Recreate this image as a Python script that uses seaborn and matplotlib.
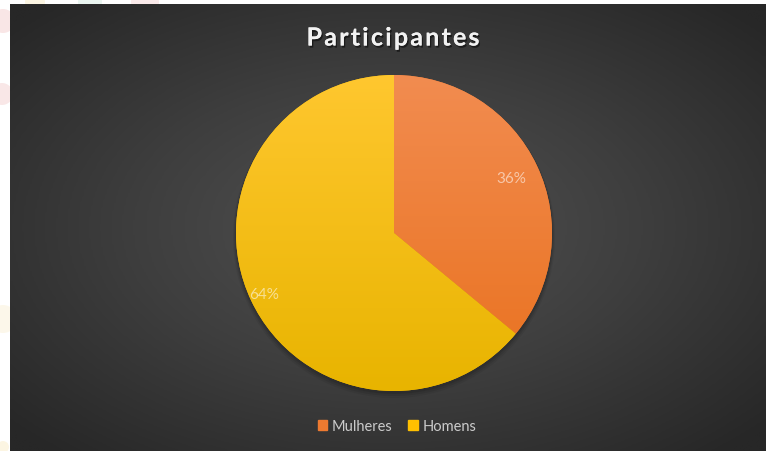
import numpy as np
import matplotlib
matplotlib.use("Agg")
import matplotlib.pyplot as plt
import matplotlib.patheffects as pe
from matplotlib.colors import LinearSegmentedColormap
from matplotlib.patches import Rectangle, Circle
import seaborn as sns

sns.set_theme(style="white")
plt.rcParams["font.family"] = ["Lato", "DejaVu Sans"]

# Data
categories = ["Mulheres", "Homens"]
shares = [36, 64]
title = "Participantes"

# Slice colours: (top of gradient, bottom of gradient)
slice_grad = [("#F28C50", "#E9711E"), ("#FFC72F", "#E8B400")]
legend_colors = ["#EE7A30", "#FFC000"]
# Radial position of each percentage label (fraction of radius)
label_radius = [0.82, 0.91]

W, H = 766, 452
fig = plt.figure(figsize=(W / 100, H / 100), dpi=100)
fig.patch.set_facecolor("white")

# Faint decorative circles in the white margin
deco = fig.add_axes([0, 0, 1, 1])
deco.set_xlim(0, W)
deco.set_ylim(H, 0)
deco.axis("off")
for (dx, dy, r, c) in [(3, 22, 12, "#F6D6D6"), (2, 95, 11, "#F5D8D8"),
                       (3, 320, 14, "#FBF3DC"), (3, 448, 6, "#FBEFCF"),
                       (35, 3, 10, "#FBEFCF"), (90, 3, 12, "#DDEFE6"),
                       (145, 3, 14, "#F8DCDC")]:
    deco.add_patch(Circle((dx, dy), r, color=c, alpha=0.6, lw=0))

# Dark panel with radial gradient
px0, py0, px1, py1 = 10, 5, 766, 452
pan = fig.add_axes([px0 / W, 1 - py1 / H, (px1 - px0) / W, (py1 - py0) / H])
pan.axis("off")
gx = np.linspace(-1, 1, 400)
gy = np.linspace(-1, 1, 240)
GX, GY = np.meshgrid(gx, gy)
R = np.clip(np.sqrt(GX ** 2 + GY ** 2) / 1.35, 0, 1)
bg_cmap = LinearSegmentedColormap.from_list("bg", ["#525252", "#3E3E3E", "#272727"])
pan.imshow(R, cmap=bg_cmap, vmin=0, vmax=1, aspect="auto",
           extent=(0, 1, 0, 1), interpolation="bilinear")
pan.set_xlim(0, 1)
pan.set_ylim(0, 1)

# Main axes in pixel coordinates (y up)
ax = fig.add_axes([0, 0, 1, 1])
ax.patch.set_alpha(0)
cx, cy, rad = 394, H - 234, 158

# Soft shadow under the pie
for k, a in enumerate([0.10, 0.08, 0.06]):
    ax.add_patch(Circle((cx, cy - 2 - k), rad + 1 + k, color="black", alpha=a, lw=0))

wedges, _ = ax.pie(shares, center=(cx, cy), radius=rad, startangle=90,
                   counterclock=False, colors=legend_colors, frame=True,
                   wedgeprops=dict(linewidth=0))

ramp = np.linspace(0, 1, 256).reshape(-1, 1)
for w, (ctop, cbot) in zip(wedges, slice_grad):
    cm = LinearSegmentedColormap.from_list("g", [cbot, ctop])
    im = ax.imshow(ramp, cmap=cm, aspect="auto", origin="lower",
                   extent=(cx - rad, cx + rad, cy - rad, cy + rad),
                   interpolation="bilinear", zorder=w.get_zorder() + 0.1)
    im.set_clip_path(w)

# Percentage labels
for w, v, lr in zip(wedges, shares, label_radius):
    ang = np.deg2rad((w.theta1 + w.theta2) / 2)
    lx = cx + rad * lr * np.cos(ang)
    ly = cy + rad * lr * np.sin(ang)
    ax.text(lx, ly, f"{v}%", ha="center", va="center", fontsize=11,
            color="#FFFFFF", alpha=0.55, zorder=10)

ax.set_xlim(0, W)
ax.set_ylim(0, H)
ax.set_aspect("equal")
ax.axis("off")

# Title, drawn glyph by glyph with extra tracking
renderer = fig.canvas.get_renderer()
tracking = 2.2
title_kw = dict(fontsize=18, fontweight="bold", color="#F2F2F2", va="baseline",
                ha="left",
                path_effects=[pe.withSimplePatchShadow(offset=(1, -1.5),
                                                       shadow_rgbFace="black", alpha=0.5),
                              pe.Normal()])
widths = []
for i in range(len(title)):
    # advance width from prefix lengths to keep kerning-free metrics stable
    t = fig.text(0, 0, title[: i + 1], **title_kw)
    widths.append(t.get_window_extent(renderer).width)
    t.remove()
advances = np.diff([0] + widths)
total = widths[-1] + tracking * (len(title) - 1)
x = 393 - total / 2
baseline = H - 46.5
for i, ch in enumerate(title):
    fig.text(x / W, baseline / H, ch, **title_kw)
    x += advances[i] + tracking

# Legend
handles = [Rectangle((0, 0), 1, 1, color=c) for c in legend_colors]
leg = fig.legend(handles, categories, loc="center", bbox_to_anchor=(397 / W, 1 - 427 / H),
                 ncol=2, frameon=False, fontsize=10.5, handlelength=0.62,
                 handleheight=0.62, handletextpad=0.35, columnspacing=1.1)
for t in leg.get_texts():
    t.set_color("#CBCBCB")

fig.savefig("out.png", dpi=100, facecolor=fig.get_facecolor())
